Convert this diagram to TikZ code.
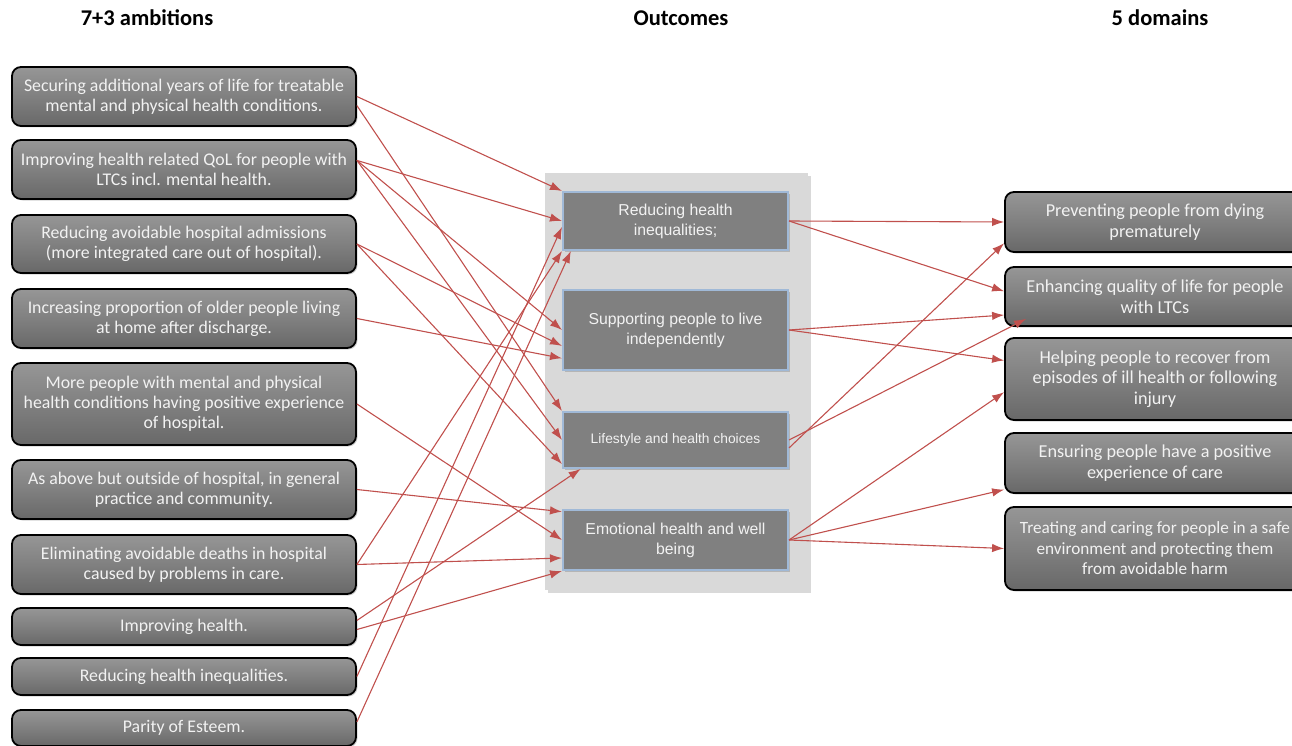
\documentclass[tikz,border=0pt]{standalone}
\usepackage{fontspec}
\setmainfont{Carlito}
\newfontfamily\arialfont{Liberation Sans}
\usepackage{tikz}
\usetikzlibrary{shadows,arrows.meta}

\definecolor{boxgray}{RGB}{128,128,128}
\definecolor{boxlight}{RGB}{150,150,150}
\definecolor{boxdark}{RGB}{104,104,104}
\definecolor{paneltone}{RGB}{217,217,217}
\definecolor{bevel}{RGB}{160,185,215}
\definecolor{linkred}{RGB}{192,80,77}
\definecolor{boxtext}{RGB}{242,242,242}

\begin{document}
\begin{tikzpicture}[x=1pt, y=-1pt,
    amb/.style={draw=black, line width=1.8pt, rounded corners=9pt,
        top color=boxlight, bottom color=boxdark, middle color=boxgray,
        text=boxtext, align=center, inner sep=0pt, minimum width=344pt,
        font=\fontsize{17.8}{20}\selectfont,
        drop shadow={shadow xshift=1.5pt, shadow yshift=-1.5pt, opacity=0.35}},
    dom/.style={amb, minimum width=300pt, font=\fontsize{18.2}{20.5}\selectfont},
    outc/.style={draw=bevel, line width=2pt, fill=boxgray, text=boxtext,
        align=center, inner sep=0pt, minimum width=225pt,
        font=\arialfont\fontsize{15.8}{20}\selectfont,
        drop shadow={shadow xshift=2pt, shadow yshift=-2pt, opacity=0.4}},
    head/.style={font=\bfseries\fontsize{22.5}{26}\selectfont},
    link/.style={draw=linkred, line width=1.1pt, -{Latex[length=12pt, width=8.5pt]}}]
        \useasboundingbox (0, 0) rectangle (1292, 746);

        % Headings
        \node[head] (h1) at (147, 18){7+3 ambitions};
        \node[head] (h2) at (681, 18){Outcomes};
        \node[head] (h3) at (1160, 18){5 domains};

        % Ambitions
        \node[amb, minimum height=59pt] (a1) at (184, 96.5){Securing additional years of life for treatable\\mental and physical health conditions.};
        \node[amb, minimum height=59pt] (a2) at (184, 169.5){Improving health related QoL for people with\\LTCs incl. mental health.};
        \node[amb, minimum height=58pt] (a3) at (184, 244){Reducing avoidable hospital admissions\\(more integrated care out of hospital).};
        \node[amb, minimum height=59pt] (a4) at (184, 318.5){Increasing proportion of older people living\\at home after discharge.};
        \node[amb, minimum height=82pt] (a5) at (184, 404){More people with mental and physical\\health conditions having positive experience\\of hospital.};
        \node[amb, minimum height=59pt] (a6) at (184, 489.5){As above but outside of hospital, in general\\practice and community.};
        \node[amb, minimum height=59pt] (a7) at (184, 564.5){Eliminating avoidable deaths in hospital\\caused by problems in care.};
        \node[amb, minimum height=37pt] (a8) at (184, 626.5){Improving health.};
        \node[amb, minimum height=37pt] (a9) at (184, 676.5){Reducing health inequalities.};
        \node[amb, minimum height=36pt] (a10) at (184, 728){Parity of Esteem.};

        % Outcomes
        \fill[paneltone, drop shadow={shadow xshift=3pt, shadow yshift=-3pt, opacity=0.3}] (545, 173) rectangle (808, 590);
        \node[outc, minimum height=58pt] (o1) at (675.5, 221){Reducing health\\inequalities;};
        \node[outc, minimum height=80pt] (o2) at (675.5, 330){Supporting people to live\\independently};
        \node[outc, minimum height=56pt, font=\arialfont\fontsize{13.8}{16}\selectfont] (o3) at (675.5, 440){Lifestyle and health choices};
        \node[outc, minimum height=60pt] (o4) at (675.5, 540){Emotional health and well\\being};

        % Domains
        \node[dom, minimum height=60pt] (d1) at (1155, 222){Preventing people from dying\\prematurely};
        \node[dom, minimum height=59pt] (d2) at (1155, 296.5){Enhancing quality of life for people\\with LTCs};
        \node[dom, minimum height=82pt] (d3) at (1155, 379){Helping people to recover from\\episodes of ill health or following\\injury};
        \node[dom, minimum height=60pt] (d4) at (1155, 463){Ensuring people have a positive\\experience of care};
        \node[dom, minimum height=83pt, font=\fontsize{17.2}{20.5}\selectfont] (d5) at (1155, 548.5){Treating and caring for people in a safe\\environment and protecting them\\from avoidable harm};

        % Ambitions to outcomes
        \draw[link] (a1.east) -- (o1.north west);
        \draw[link] (a1.-3) -- (o3.north west);
        \draw[link] (a2.3) -- (o1.west);
        \draw[link] (a2.3) -- (o2.west);
        \draw[link] (a2.3) -- (o3.west);
        \draw[link] (a3.east) -- (o2.188);
        \draw[link] (a3.east) -- (o3.192);
        \draw[link] (a4.east) -- (o2.194);
        \draw[link] (a5.east) -- (o4.west);
        \draw[link] (a6.east) -- (o4.166);
        \draw[link] (a7.east) -- (o1.south west);
        \draw[link] (a7.east) -- (o4.189);
        \draw[link] (a8.2) -- (o3.197);
        \draw[link] (a8.-1) -- (o4.south west);
        \draw[link] (a9.east) -- (o1.183);
        \draw[link] (a10.2) -- (o1.196);

        % Outcomes to domains
        \draw[link] (o1.east) -- (d1.west);
        \draw[link] (o1.east) -- (d2.178);
        \draw[link] (o2.east) -- (d2.187);
        \draw[link] (o2.east) -- (d3.173);
        \draw[link] (o3.-4) -- (d1.188);
        \draw[link] (o3.east) -- ([xshift=22pt, yshift=8pt]d2.south west);
        \draw[link] (o4.east) -- (d3.185);
        \draw[link] (o4.east) -- (d4.190);
        \draw[link] (o4.east) -- (d5.west);
    \end{tikzpicture}
\end{document}
